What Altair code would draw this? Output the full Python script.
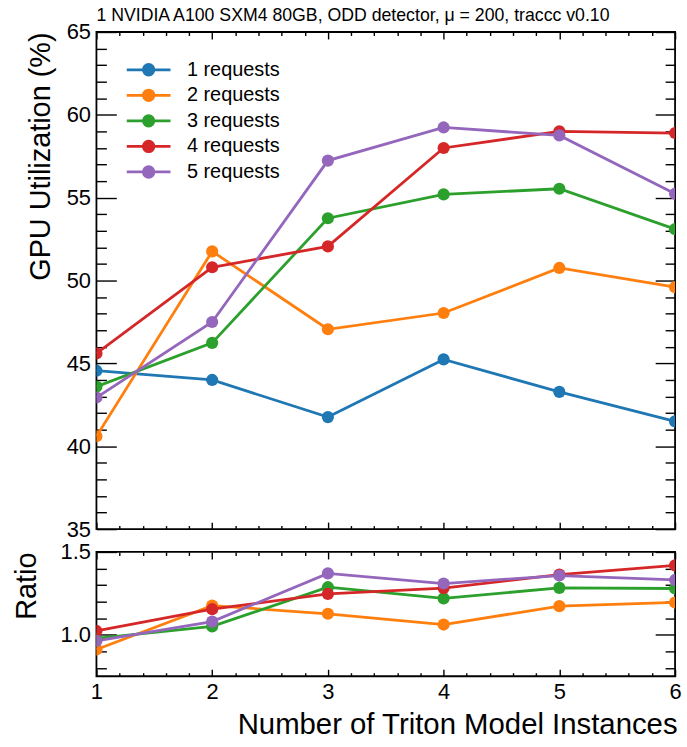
import altair as alt
import pandas as pd

# ---------------- data ----------------
instances = [1, 2, 3, 4, 5, 6]
series_names = ["1 requests", "2 requests", "3 requests", "4 requests", "5 requests"]
req1 = [44.56, 44.0, 41.76, 45.24, 43.28, 41.5]
req2 = [40.6, 51.76, 47.06, 48.04, 50.76, 49.6]
req3 = [43.6, 46.24, 53.76, 55.2, 55.54, 53.1]
req4 = [45.6, 50.8, 52.06, 58.0, 59.0, 58.9]
req5 = [42.94, 47.5, 57.24, 59.24, 58.76, 55.24]
colors = ["#1f77b4", "#ff7f0e", "#2ca02c", "#d62728", "#9467bd"]

title_text = "1 NVIDIA A100 SXM4 80GB, ODD detector, \u03bc = 200, traccc v0.10"
x_title = "Number of Triton Model Instances"
y_title_main = "GPU Utilization (%)"
y_title_ratio = "Ratio"

x_major = [1, 2, 3, 4, 5, 6]
x_ticks = [round(1 + 0.2 * i, 1) for i in range(26)]
y_main_major = [35, 40, 45, 50, 55, 60, 65]
y_main_ticks = list(range(35, 66))
y_ratio_major = [1.0, 1.5]
y_ratio_ticks = [0.8, 0.9, 1.0, 1.1, 1.2, 1.3, 1.4, 1.5]

all_series = [req1, req2, req3, req4, req5]
rows = []
for name, vals in zip(series_names, all_series):
    for xi, v, base in zip(instances, vals, req1):
        rows.append({"instances": xi, "util": v, "series": name, "ratio": v / base})
df = pd.DataFrame(rows)
df_ratio = df[df["series"] != series_names[0]]

# ---------------- style ----------------
FONT = "Liberation Sans"
W = 582
H_MAIN = 500
H_RATIO = 125


def cscale():
    return alt.Scale(domain=series_names, range=colors)


def cond(test, major, minor):
    return {"condition": {"test": test, "value": major}, "value": minor}


X_TEST = "abs(datum.value - round(datum.value)) < 0.001"

# legend symbol: a line with a (filled-looking) marker in the middle
LEGEND_SYMBOL = (
    "M-2.2,0H2.2"
    "M-0.53,0A0.53,0.53 0 1,0 0.53,0A0.53,0.53 0 1,0 -0.53,0Z"
    "M-0.31,0A0.31,0.31 0 1,0 0.31,0A0.31,0.31 0 1,0 -0.31,0Z"
    "M-0.11,0A0.11,0.11 0 1,0 0.11,0A0.11,0.11 0 1,0 -0.11,0Z"
)


def panel(data, yfield, ydomain, H, ylab_vals, yticks, ytest, yfmt,
          ytitle, ytitle_x, show_x, legend):
    xs = alt.Scale(domain=[1, 6], nice=False, zero=False)
    ys = alt.Scale(domain=ydomain, nice=False, zero=False)

    if show_x:
        x_axis = alt.Axis(values=x_major, ticks=False, domain=False, grid=False,
                          labelFontSize=22, labelFont=FONT, labelPadding=5,
                          labelFlush=False, labelOverlap=False, format="d",
                          title=x_title, titleFontSize=29.5, titleFont=FONT,
                          titleFontWeight="normal", titleAlign="right",
                          titleBaseline="alphabetic", titleX=W + 2, titleY=58,
                          titleAnchor="end")
    else:
        x_axis = None

    y_axis = alt.Axis(values=ylab_vals, ticks=False, domain=False, grid=False,
                      labelFontSize=22, labelFont=FONT, labelPadding=6,
                      labelOverlap=False, format=yfmt,
                      title=ytitle, titleFontSize=29, titleFont=FONT,
                      titleFontWeight="normal", titleAngle=270,
                      titleAlign="right", titleBaseline="alphabetic",
                      titleX=ytitle_x, titleY=0)

    line = alt.Chart(data).mark_line(strokeWidth=2.8, clip=True).encode(
        x=alt.X("instances:Q", scale=xs, axis=x_axis),
        y=alt.Y(f"{yfield}:Q", scale=ys, axis=y_axis),
        color=alt.Color("series:N", scale=cscale(), legend=legend),
        detail="series:N",
    )

    pts = alt.Chart(data).mark_point(filled=True, size=150, opacity=1,
                                     strokeWidth=0, clip=True).encode(
        x=alt.X("instances:Q", scale=xs, axis=None),
        y=alt.Y(f"{yfield}:Q", scale=ys, axis=None),
        color=alt.Color("series:N", scale=cscale(), legend=None),
    )

    def tick_layer(x_orient, y_orient):
        return alt.Chart(data).mark_point(opacity=0, clip=True).encode(
            x=alt.X("instances:Q", scale=xs,
                    axis=alt.Axis(orient=x_orient, offset=-H, values=x_ticks,
                                  labels=False, domain=False, grid=False, title=None,
                                  tickColor="black", tickWidth=1.4, minExtent=0,
                                  tickSize=cond(X_TEST, 7, 3.5))),
            y=alt.Y(f"{yfield}:Q", scale=ys,
                    axis=alt.Axis(orient=y_orient, offset=-W, values=yticks,
                                  labels=False, domain=False, grid=False, title=None,
                                  tickColor="black", tickWidth=1.4, minExtent=0,
                                  tickSize=cond(ytest, 20, 10))),
        )

    t1 = tick_layer("bottom", "right")   # top edge & left edge, inward
    t2 = tick_layer("top", "left")       # bottom edge & right edge, inward

    return alt.layer(line, pts, t1, t2).resolve_axis(
        x="independent", y="independent"
    ).properties(width=W, height=H)


legend_main = alt.Legend(
    title=None, orient="none", legendX=41, legendY=26.5,
    symbolType=LEGEND_SYMBOL,
    symbolSize=400, symbolStrokeWidth=2.8, symbolOpacity=1,
    labelFontSize=20, labelFont=FONT, labelColor="black", labelOffset=27,
    rowPadding=2.7,
)

top = panel(df, "util", [35, 65], H_MAIN, y_main_major, y_main_ticks,
            "datum.value % 5 === 0", "d", y_title_main, -47, False, legend_main
            ).properties(
    title=alt.TitleParams(title_text, anchor="start", frame="group", fontSize=17.8,
                          font=FONT, fontWeight="normal", offset=-18,
                          baseline="alphabetic", color="black")
)

bottom = panel(df_ratio, "ratio", [0.75, 1.5], H_RATIO, y_ratio_major, y_ratio_ticks,
               "abs(datum.value * 2 - round(datum.value * 2)) < 0.001", ".1f",
               y_title_ratio, -61, True, None)

chart = alt.vconcat(top, bottom, spacing=23, bounds="flush").resolve_scale(
    color="independent", x="independent", y="independent",
).resolve_legend(
    color="independent"
).properties(
    padding={"left": 12, "top": 4, "right": 4, "bottom": 4},
    background="white",
).configure_view(
    stroke="black", strokeWidth=1.8
).configure_axis(
    labelColor="black", titleColor="black", tickColor="black"
)

chart.save("out.html", embed_options={"renderer": "svg", "actions": False})
